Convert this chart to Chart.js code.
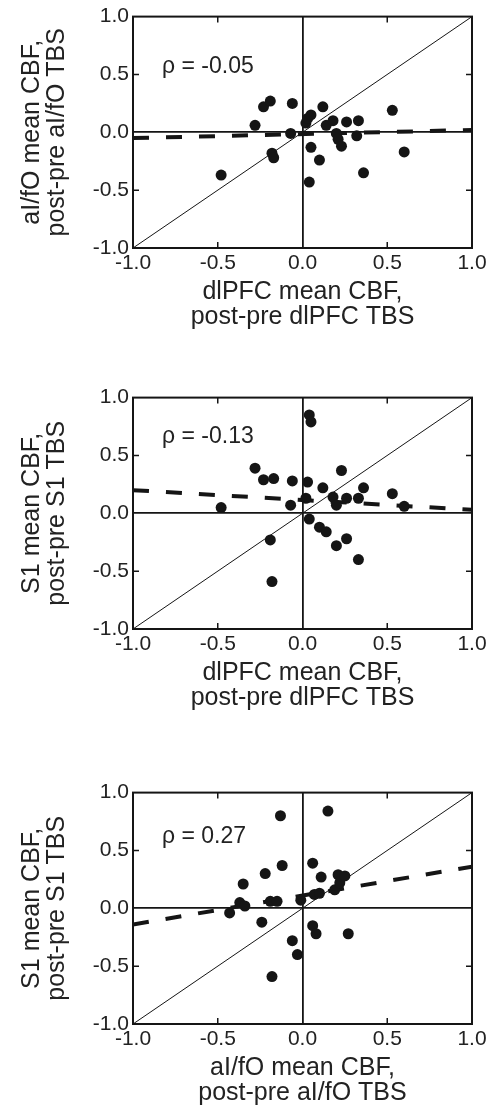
<!DOCTYPE html>
<html>
<head>
<meta charset="utf-8">
<script src="https://cdn.jsdelivr.net/npm/chart.js@4.4.1/dist/chart.umd.min.js"></script>
<style>
  html, body { margin: 0; padding: 0; background: #fff; overflow: hidden; }
  body { width: 497px; height: 1112px; position: relative; }
  .panel { position: absolute; left: 0; width: 497px; height: 340px; }
</style>
</head>
<body>
<div class="panel" style="top:0px"><canvas id="c1"></canvas></div>
<div class="panel" style="top:381px"><canvas id="c2"></canvas></div>
<div class="panel" style="top:776px"><canvas id="c3"></canvas></div>
<script>
// panel 1: dlPFC (x) vs aI/fO (y)
const p1X = [-0.48, -0.28, -0.23, -0.19, -0.06, -0.07, -0.18, -0.17, 0.02, 0.03, 0.05, 0.12, 0.14, 0.18, 0.26, 0.33, 0.20, 0.21, 0.23, 0.32, 0.05, 0.10, 0.04, 0.36, 0.53, 0.60]
const p1Y = [-0.37, 0.06, 0.22, 0.27, 0.25, -0.01, -0.18, -0.22, 0.08, 0.12, 0.15, 0.22, 0.06, 0.10, 0.09, 0.10, -0.01, -0.06, -0.12, -0.03, -0.13, -0.24, -0.43, -0.35, 0.19, -0.17]
// panel 2: dlPFC (x) vs S1 (y)
const p2X = [-0.48, -0.28, -0.23, -0.17, -0.06, -0.07, -0.19, -0.18, 0.03, 0.02, 0.04, 0.05, 0.12, 0.23, 0.18, 0.20, 0.26, 0.33, 0.36, 0.53, 0.60, 0.04, 0.10, 0.14, 0.20, 0.26, 0.33]
const p2Y = [0.05, 0.39, 0.29, 0.30, 0.28, 0.07, -0.23, -0.59, 0.27, 0.13, 0.85, 0.79, 0.22, 0.37, 0.14, 0.07, 0.13, 0.13, 0.22, 0.17, 0.06, -0.05, -0.12, -0.16, -0.28, -0.22, -0.40]
// panel 3: aI/fO (x) vs S1 (y)
const p3X = [-0.43, -0.37, -0.34, -0.35, -0.24, -0.22, -0.19, -0.15, -0.18, -0.12, -0.13, -0.06, -0.03, -0.01, 0.06, 0.06, 0.08, 0.07, 0.10, 0.11, 0.15, 0.19, 0.22, 0.21, 0.25, 0.27]
const p3Y = [-0.04, 0.05, 0.02, 0.21, -0.12, 0.30, 0.06, 0.06, -0.59, 0.37, 0.80, -0.28, -0.40, 0.07, 0.39, -0.15, -0.22, 0.12, 0.13, 0.27, 0.84, 0.16, 0.22, 0.29, 0.28, -0.22]

// regression lines: y at x = -1 and x = 1
const fitX = [-1, 1]
const p1Fit = [-0.05, 0.02]
const p2Fit = [0.20, 0.03]
const p3Fit = [-0.14, 0.36]

const rhoLabels = ['\u03c1 = -0.05', '\u03c1 = -0.13', '\u03c1 = 0.27']
const xTitles = [
  ['dlPFC mean CBF,', 'post-pre dlPFC TBS'],
  ['dlPFC mean CBF,', 'post-pre dlPFC TBS'],
  ['aI/fO mean CBF,', 'post-pre aI/fO TBS']
]
const yTitles = [
  ['aI/fO mean CBF,', 'post-pre aI/fO TBS'],
  ['S1 mean CBF,', 'post-pre S1 TBS'],
  ['S1 mean CBF,', 'post-pre S1 TBS']
]
const innerTicks = [-0.5, 0.5]

Chart.defaults.font.family = '"Liberation Sans", Arial, sans-serif'
Chart.defaults.color = '#222'

const ink = '#151515'

// box around the plot, inward ticks and the rho label
const framePlugin = {
  id: 'frame',
  afterDatasetsDraw(chart, args, opts) {
    const { ctx, chartArea: a, scales } = chart
    ctx.save()
    ctx.strokeStyle = ink
    ctx.lineWidth = 2
    ctx.strokeRect(a.left, a.top, a.right - a.left, a.bottom - a.top)
    ctx.lineWidth = 1.5
    const len = 6
    innerTicks.forEach(v => {
      const px = scales.x.getPixelForValue(v)
      const py = scales.y.getPixelForValue(v)
      ctx.beginPath()
      ctx.moveTo(px, a.top); ctx.lineTo(px, a.top + len)
      ctx.moveTo(px, a.bottom); ctx.lineTo(px, a.bottom - len)
      ctx.moveTo(a.left, py); ctx.lineTo(a.left + len, py)
      ctx.moveTo(a.right, py); ctx.lineTo(a.right - len, py)
      ctx.stroke()
    })
    ctx.fillStyle = '#222'
    ctx.font = '23px "Liberation Sans", Arial, sans-serif'
    ctx.textBaseline = 'alphabetic'
    ctx.fillText(opts.text, a.left + 29, a.top + opts.dy)
    ctx.restore()
  }
}

function makeChart(id, xs, ys, fit, idx, rhoDy) {
  const pts = xs.map((x, i) => ({ x: x, y: ys[i] }))
  const fitPts = fitX.map((x, i) => ({ x: x, y: fit[i] }))
  const zeroGrid = {
    drawTicks: false,
    lineWidth: 1.8,
    color: c => (c.tick && c.tick.value === 0 ? ink : 'rgba(0,0,0,0)')
  }
  new Chart(document.getElementById(id), {
    type: 'scatter',
    data: {
      datasets: [
        {
          data: pts,
          backgroundColor: ink,
          borderWidth: 0,
          pointRadius: 5.5,
          pointHoverRadius: 5.5
        },
        {
          data: fitPts,
          showLine: true,
          borderColor: ink,
          borderWidth: 4,
          borderDash: [16, 17],
          pointRadius: 0
        },
        {
          data: [{ x: -1, y: -1 }, { x: 1, y: 1 }],
          showLine: true,
          borderColor: ink,
          borderWidth: 1,
          pointRadius: 0
        }
      ]
    },
    options: {
      responsive: false,
      animation: false,
      layout: { padding: { top: 16, right: 25, left: 0, bottom: 0 } },
      plugins: {
        legend: { display: false },
        tooltip: { enabled: false },
        frame: { text: rhoLabels[idx], dy: rhoDy }
      },
      scales: {
        x: {
          type: 'linear',
          min: -1, max: 1,
          afterFit: s => { s.height = 92 },
          border: { display: false },
          grid: zeroGrid,
          ticks: { stepSize: 0.5, padding: 3, font: { size: 21 }, maxRotation: 0, callback: v => v.toFixed(1) },
          title: {
            display: true,
            text: xTitles[idx],
            font: { size: 25, lineHeight: 0.98 },
            padding: { top: 0, bottom: 11 }
          }
        },
        y: {
          type: 'linear',
          min: -1, max: 1,
          afterFit: s => { s.width = 133 },
          border: { display: false },
          grid: zeroGrid,
          ticks: { stepSize: 0.5, padding: 4, font: { size: 21 }, callback: v => v.toFixed(1) },
          title: {
            display: true,
            text: yTitles[idx],
            font: { size: 25, lineHeight: 0.98 },
            padding: { top: 20, bottom: 0 }
          }
        }
      }
    },
    plugins: [framePlugin]
  })
}

;['c1', 'c2', 'c3'].forEach(id => {
  const c = document.getElementById(id)
  c.width = 497
  c.height = 340
  c.style.width = '497px'
  c.style.height = '340px'
})

makeChart('c1', p1X, p1Y, p1Fit, 0, 56)
makeChart('c2', p2X, p2Y, p2Fit, 1, 45)
makeChart('c3', p3X, p3Y, p3Fit, 2, 50)
</script>
</body>
</html>
